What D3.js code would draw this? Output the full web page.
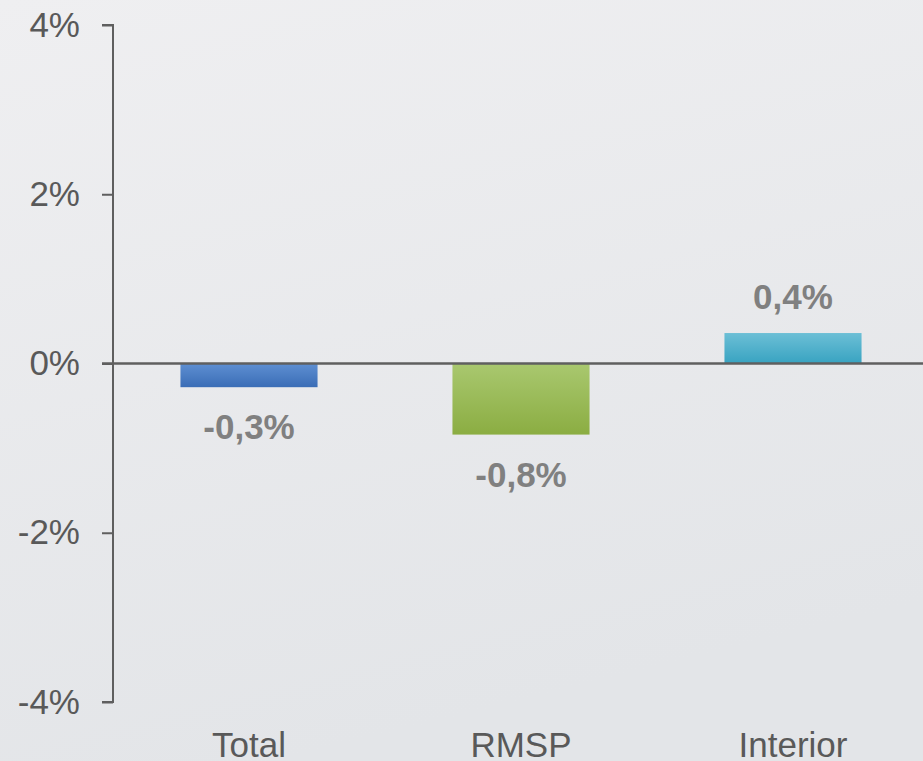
<!DOCTYPE html>
<html>
<head>
<meta charset="utf-8">
<script src="https://cdn.jsdelivr.net/npm/d3@7"></script>
<style>
  html, body { margin: 0; padding: 0; }
  body { width: 923px; height: 761px; overflow: hidden; }
  svg { display: block; font-family: "Liberation Sans", Arial, sans-serif; }
</style>
</head>
<body>
<div id="chart"></div>
<script>
// data
var categories = ["Total", "RMSP", "Interior"];
var values = [-0.28, -0.84, 0.36];
var yTicks = [-4, -2, 0, 2, 4];
var barColors = [
    ["#5e8fd2", "#3a6db6"],
    ["#a9c86f", "#8bad42"],
    ["#6cbfd6", "#38a3c1"]
];

var width = 923, height = 761;

var locale = d3.formatLocale({
    decimal: ",",
    thousands: ".",
    grouping: [3],
    currency: ["", ""],
    minus: "-"
});
var fmt = locale.format(".1f");

var svg = d3.select("#chart")
    .append("svg")
    .attr("width", width)
    .attr("height", height);

var defs = svg.append("defs");

var bg = defs.append("linearGradient")
    .attr("id", "bg")
    .attr("x1", 0).attr("y1", 0)
    .attr("x2", 0.3).attr("y2", 1);
bg.append("stop").attr("offset", "0%").attr("stop-color", "#efeff1");
bg.append("stop").attr("offset", "100%").attr("stop-color", "#e3e5e8");

barColors.forEach(function (c, i) {
    var g = defs.append("linearGradient")
        .attr("id", "bar" + i)
        .attr("x1", 0).attr("y1", 0)
        .attr("x2", 0).attr("y2", 1);
    g.append("stop").attr("offset", "0%").attr("stop-color", c[0]);
    g.append("stop").attr("offset", "100%").attr("stop-color", c[1]);
});

svg.append("rect")
    .attr("width", width)
    .attr("height", height)
    .attr("fill", "url(#bg)");

var y = d3.scaleLinear()
    .domain([-4, 4])
    .range([702, 25]);

var x = d3.scaleBand()
    .domain(categories)
    .range([113, 929])
    .paddingInner(0.496)
    .paddingOuter(0.248);

// bars
svg.selectAll("rect.bar")
    .data(values)
    .enter()
    .append("rect")
    .attr("class", "bar")
    .attr("x", function (d, i) { return x(categories[i]); })
    .attr("y", function (d) { return y(Math.max(0, d)); })
    .attr("width", x.bandwidth())
    .attr("height", function (d) { return Math.abs(y(d) - y(0)); })
    .attr("fill", function (d, i) { return "url(#bar" + i + ")"; });

// y axis
var yAxis = svg.append("g")
    .attr("transform", "translate(113,0)")
    .call(d3.axisLeft(y)
        .tickValues(yTicks)
        .tickSize(11)
        .tickPadding(22)
        .tickFormat(function (d) { return d + "%"; }));

yAxis.select(".domain")
    .attr("stroke", "#5f5f5f")
    .attr("stroke-width", 2)
    .attr("d", "M-11," + y(4) + "H0V" + y(-4) + "H-11");
yAxis.selectAll(".tick line")
    .attr("stroke", "#5f5f5f")
    .attr("stroke-width", 2);
yAxis.selectAll(".tick text")
    .attr("fill", "#595959")
    .attr("font-size", 35)
    .attr("font-family", "'Liberation Sans', Arial, sans-serif");

// zero line
svg.append("line")
    .attr("x1", 102)
    .attr("x2", width)
    .attr("y1", y(0))
    .attr("y2", y(0))
    .attr("stroke", "#5f5f5f")
    .attr("stroke-width", 2.5);

// category labels
svg.selectAll("text.cat")
    .data(categories)
    .enter()
    .append("text")
    .attr("class", "cat")
    .attr("x", function (d) { return x(d) + x.bandwidth() / 2; })
    .attr("y", 757)
    .attr("text-anchor", "middle")
    .attr("font-size", 35)
    .attr("fill", "#595959")
    .text(function (d) { return d; });

// value labels
svg.selectAll("text.val")
    .data(values)
    .enter()
    .append("text")
    .attr("class", "val")
    .attr("x", function (d, i) { return x(categories[i]) + x.bandwidth() / 2; })
    .attr("y", function (d) { return d < 0 ? y(d) + 52 : y(d) - 24; })
    .attr("text-anchor", "middle")
    .attr("font-size", 35)
    .attr("font-weight", "bold")
    .attr("fill", "#808080")
    .text(function (d) { return fmt(d) + "%"; });
</script>
</body>
</html>
